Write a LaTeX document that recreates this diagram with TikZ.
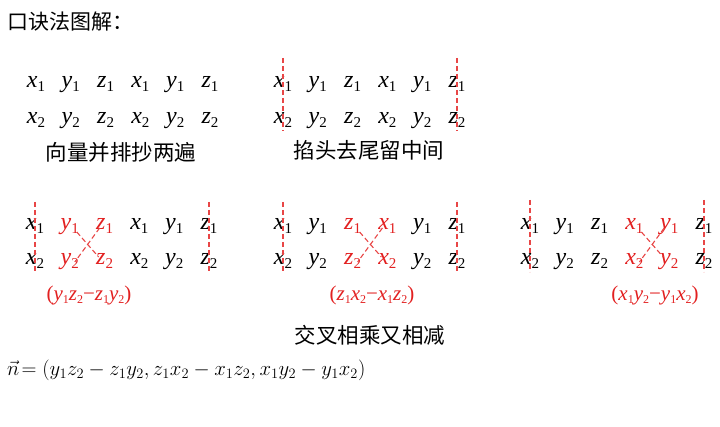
\documentclass[tikz,border=0pt]{standalone}
\usepackage{fontspec}
\setmainfont{Liberation Serif}
\newfontfamily\cjk{Noto Sans CJK SC}
\usepackage{tikz}

\definecolor{cutred}{RGB}{226,32,32}
\definecolor{cutline}{RGB}{232,70,70}
\newcommand\vsub[2]{\textit{#1}\raisebox{-4pt}{\fontsize{15}{15}\selectfont #2}}
\newcommand\tsub[2]{\textit{#1}\raisebox{-3pt}{\fontsize{12}{12}\selectfont #2}}

\tikzset{
  var/.style={inner sep=0pt, anchor=base, font=\fontsize{24}{28}\selectfont},
  cut/.style={draw=cutline, dash pattern=on 5pt off 3pt, line width=1.1pt},
  motto/.style={inner sep=0pt, font=\cjk\fontsize{21.5}{24}\selectfont},
  result/.style={inner sep=0pt, text=cutred, font=\fontsize{21}{24}\selectfont}
}

\begin{document}
\begin{tikzpicture}[x=1pt,y=-1pt]

    \useasboundingbox (0,0) rectangle (720,427);

    % title
    \node[anchor=west, inner sep=0pt, font=\cjk\fontsize{21}{24}\selectfont] (title) at (7,22) {口诀法图解：};

    % vectors written twice
    \foreach \v [count=\i] in {x,y,z,x,y,z} {
        \node[var] (g1t\i) at ({36+34.8*(\i-1)},88) {\vsub{\v}{1}};
        \node[var] (g1b\i) at ({36+34.8*(\i-1)},124) {\vsub{\v}{2}};
    }
    \node[motto] (m1) at (121,152) {向量并排抄两遍};

    % head and tail cut off
    \foreach \v [count=\i] in {x,y,z,x,y,z} {
        \node[var] (g2t\i) at ({283+34.8*(\i-1)},88) {\vsub{\v}{1}};
        \node[var] (g2b\i) at ({283+34.8*(\i-1)},124) {\vsub{\v}{2}};
    }
    \draw[cut] ([yshift=30pt]g2t1.base) -- ([yshift=-7pt]g2b1.base);
    \draw[cut] ([yshift=30pt]g2t6.base) -- ([yshift=-7pt]g2b6.base);
    \node[motto] (m2) at (369,150) {掐头去尾留中间};

    % first component
    \foreach \v/\c [count=\i] in {x/black,y/cutred,z/cutred,x/black,y/black,z/black} {
        \node[var,text=\c] (g3t\i) at ({35+34.8*(\i-1)},230) {\vsub{\v}{1}};
        \node[var,text=\c] (g3b\i) at ({35+34.8*(\i-1)},265) {\vsub{\v}{2}};
    }
    \draw[cut] ([yshift=28pt]g3t1.base) -- ([yshift=-7pt]g3b1.base);
    \draw[cut] ([yshift=28pt]g3t6.base) -- ([yshift=-7pt]g3b6.base);
    \draw[cut] ([shift={(7pt,-2pt)}]g3t2.base) -- ([shift={(-6pt,8pt)}]g3b3.base);
    \draw[cut] ([shift={(-5pt,2pt)}]g3t3.base) -- ([shift={(5pt,3pt)}]g3b2.base);
    \node[result] (r1) at (89,295) {(\tsub{y}{1}\tsub{z}{2}−\tsub{z}{1}\tsub{y}{2})};

    % second component
    \foreach \v/\c [count=\i] in {x/black,y/black,z/cutred,x/cutred,y/black,z/black} {
        \node[var,text=\c] (g4t\i) at ({283+34.8*(\i-1)},230) {\vsub{\v}{1}};
        \node[var,text=\c] (g4b\i) at ({283+34.8*(\i-1)},265) {\vsub{\v}{2}};
    }
    \draw[cut] ([yshift=28pt]g4t1.base) -- ([yshift=-7pt]g4b1.base);
    \draw[cut] ([yshift=28pt]g4t6.base) -- ([yshift=-7pt]g4b6.base);
    \draw[cut] ([shift={(7pt,-2pt)}]g4t3.base) -- ([shift={(-6pt,8pt)}]g4b4.base);
    \draw[cut] ([shift={(-5pt,2pt)}]g4t4.base) -- ([shift={(5pt,3pt)}]g4b3.base);
    \node[result] (r2) at (372,295) {(\tsub{z}{1}\tsub{x}{2}−\tsub{x}{1}\tsub{z}{2})};

    % third component
    \foreach \v/\c [count=\i] in {x/black,y/black,z/black,x/cutred,y/cutred,z/black} {
        \node[var,text=\c] (g5t\i) at ({530+34.8*(\i-1)},230) {\vsub{\v}{1}};
        \node[var,text=\c] (g5b\i) at ({530+34.8*(\i-1)},265) {\vsub{\v}{2}};
    }
    \draw[cut] ([yshift=30pt]g5t1.base) -- ([yshift=-7pt]g5b1.base);
    \draw[cut] ([yshift=30pt]g5t6.base) -- ([yshift=-7pt]g5b6.base);
    \draw[cut] ([shift={(7pt,-2pt)}]g5t4.base) -- ([shift={(-6pt,8pt)}]g5b5.base);
    \draw[cut] ([shift={(-5pt,2pt)}]g5t5.base) -- ([shift={(5pt,3pt)}]g5b4.base);
    \node[result] (r3) at (655,295) {(\tsub{x}{1}\tsub{y}{2}−\tsub{y}{1}\tsub{x}{2})};

    \node[motto] (m3) at (370,335) {交叉相乘又相减};

    % normal vector
    \node[anchor=base west, inner sep=0pt, font=\fontsize{20}{24}\selectfont] (normal) at (7,375)
        {$\vec{n}\!=(y_1z_2-z_1y_2,z_1x_2-x_1z_2,x_1y_2-y_1x_2)$};

\end{tikzpicture}
\end{document}
